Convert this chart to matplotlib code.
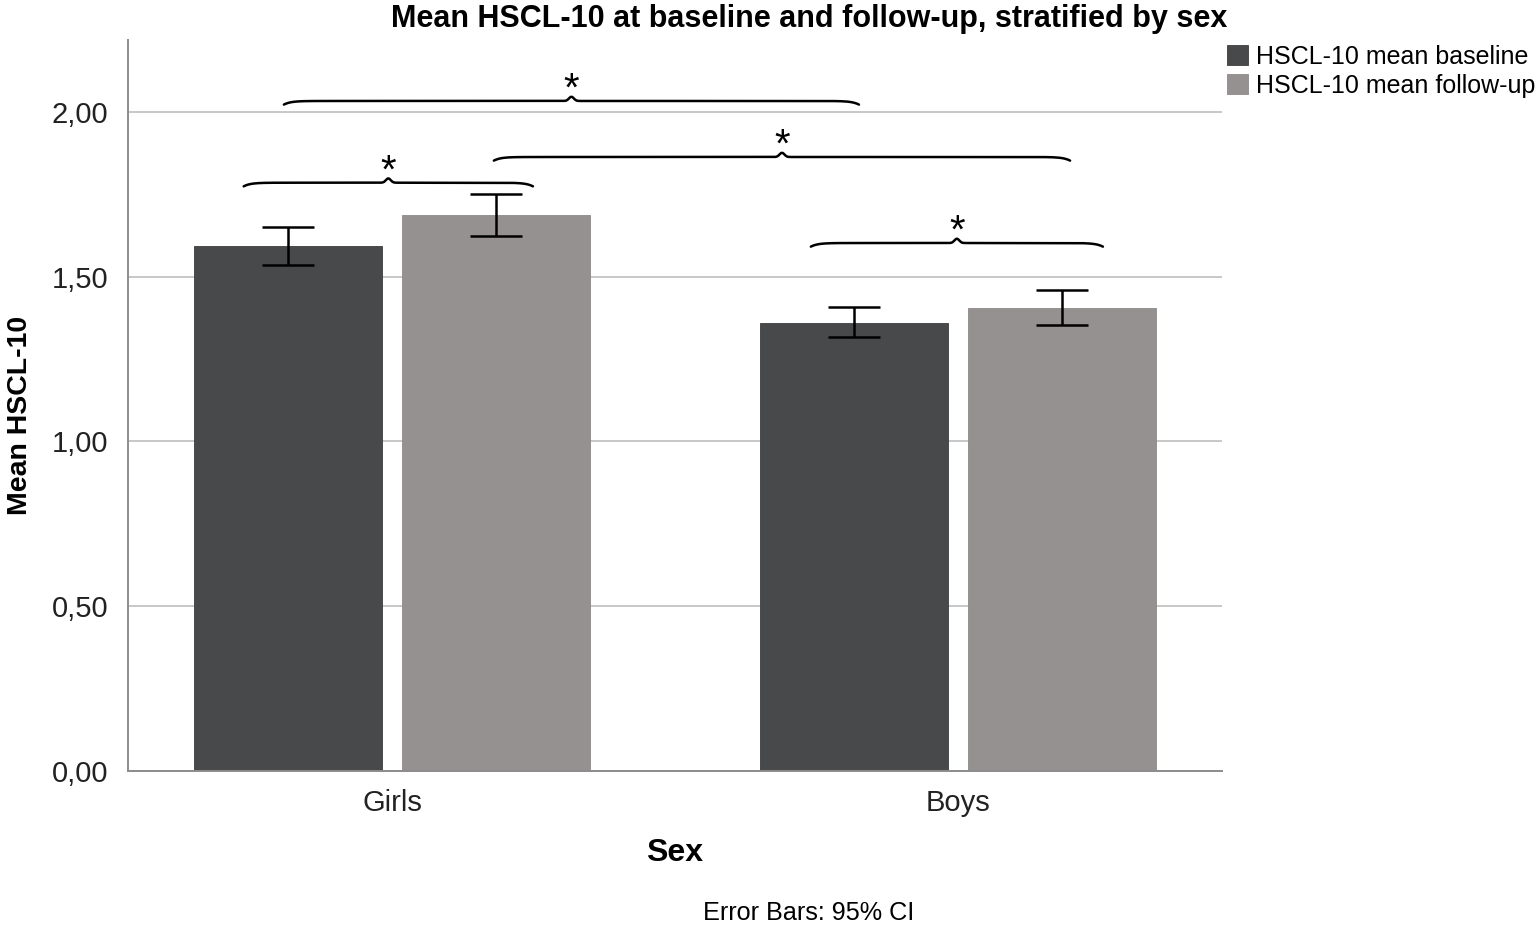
import numpy as np
import matplotlib
matplotlib.use("Agg")
import matplotlib.pyplot as plt
from matplotlib.ticker import FuncFormatter

plt.rcParams['font.family'] = ['Liberation Sans', 'DejaVu Sans']

# data
groups = ['Girls', 'Boys']
series = ['HSCL-10 mean baseline', 'HSCL-10 mean follow-up']
baseline = [1.593, 1.360]
baseline_lo = [1.536, 1.317]
baseline_hi = [1.651, 1.408]
followup = [1.687, 1.405]
followup_lo = [1.624, 1.354]
followup_hi = [1.751, 1.460]

# significance braces: (x start, x end, y level) in data units
braces = [
    (-0.262, 0.249, 1.785),
    (-0.191, 0.825, 2.033),
    (0.180, 1.198, 1.863),
    (0.740, 1.256, 1.602),
]

dark = '#48494b'
light = '#959190'


def draw_brace(ax, x0, x1, y):
    xs = np.linspace(x0, x1, 400)
    xm = (x0 + x1) / 2
    w = 0.012
    ys = (y
          - 0.011 * np.exp(-(xs - x0) / w)
          - 0.011 * np.exp(-(x1 - xs) / w)
          + 0.013 * np.exp(-((xs - xm) / 0.006) ** 2))
    ax.plot(xs, ys, color='black', lw=1.8, solid_capstyle='round')
    ax.text(xm, y + 0.034, '*', ha='center', va='center',
            fontsize=29, color='black')


fig = plt.figure(figsize=(15.36, 9.3), dpi=100)
ax = fig.add_axes([128 / 1536, 159 / 930, 1094 / 1536, 731 / 930])

x = np.arange(len(groups))
width = 0.332
offset = 0.1845

b1 = ax.bar(x - offset, baseline, width, color=dark, edgecolor='#3c3d3f',
            linewidth=0.6, label=series[0], zorder=2)
b2 = ax.bar(x + offset, followup, width, color=light, edgecolor='#8e8a8a',
            linewidth=0.6, label=series[1], zorder=2)

err1 = [np.array(baseline) - np.array(baseline_lo),
        np.array(baseline_hi) - np.array(baseline)]
err2 = [np.array(followup) - np.array(followup_lo),
        np.array(followup_hi) - np.array(followup)]
ax.errorbar(x - offset, baseline, yerr=err1, fmt='none', ecolor='black',
            elinewidth=1.8, capsize=19, capthick=1.8, zorder=3)
ax.errorbar(x + offset, followup, yerr=err2, fmt='none', ecolor='black',
            elinewidth=1.8, capsize=19, capthick=1.8, zorder=3)

for x0, x1, y in braces:
    draw_brace(ax, x0, x1, y)

ax.set_xlim(-0.4664, 1.4664)
ax.set_ylim(0, 2.218)
ax.set_yticks([0, 0.5, 1.0, 1.5, 2.0])
ax.yaxis.set_major_formatter(FuncFormatter(lambda v, p: f'{v:.2f}'.replace('.', ',')))
ax.set_xticks(x)
ax.set_xticklabels(groups)
ax.tick_params(axis='both', length=0, labelsize=21, colors='#222222')
ax.tick_params(axis='x', pad=13)
ax.tick_params(axis='y', pad=14)
ax.yaxis.grid(True, color='#c8c8c8', lw=1.4, zorder=0)
ax.set_axisbelow(True)
for s in ['top', 'right']:
    ax.spines[s].set_visible(False)
for s in ['left', 'bottom']:
    ax.spines[s].set_color('#8c8c8c')
    ax.spines[s].set_linewidth(1.4)

fig.text(20 / 1536, 1 - 415 / 930, 'Mean HSCL-10', rotation=90, ha='center',
         va='center', fontsize=20.5, fontweight='bold')
fig.text(675 / 1536, 1 - 853 / 930, 'Sex', ha='center', va='center',
         fontsize=23, fontweight='bold')
fig.text(809 / 1536, 1 - 913 / 930, 'Error Bars: 95% CI', ha='center',
         va='center', fontsize=18.2)
fig.text(809 / 1536, 1 - 19 / 930,
         'Mean HSCL-10 at baseline and follow-up, stratified by sex',
         ha='center', va='center', fontsize=22, fontweight='bold')

fig.legend(handles=[b1, b2], labels=series, loc='upper left',
           bbox_to_anchor=(1222 / 1536, 1 - 40 / 930), frameon=False,
           fontsize=18, handlelength=0.85, handleheight=0.85, handletextpad=0.3,
           labelspacing=0.2, borderaxespad=0, borderpad=0.2)

fig.savefig('out.png', dpi=100)
